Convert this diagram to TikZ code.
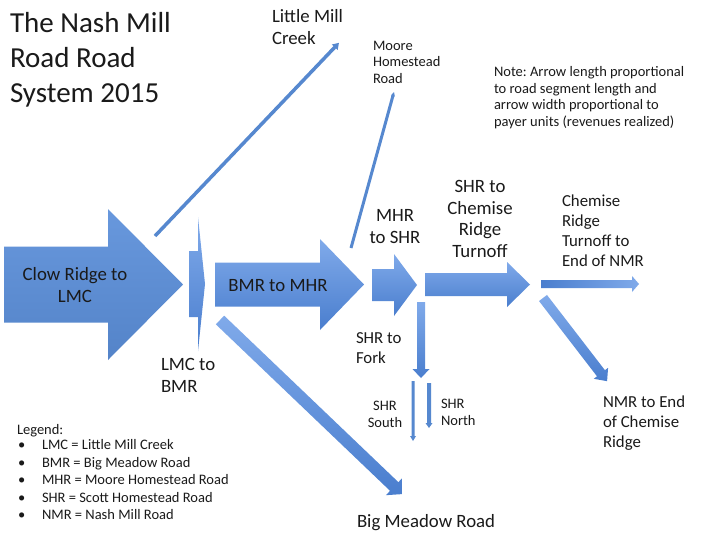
\documentclass[tikz,border=0pt]{standalone}
\usepackage{fontspec}
\setmainfont{Carlito}
\frenchspacing
\definecolor{arrlight}{HTML}{80AAEA}
\definecolor{arrdark}{HTML}{4A7ECE}
\definecolor{arrmid}{HTML}{5B8FDA}
\definecolor{txt}{HTML}{1A1A1A}
\newcommand\nmTitle{\fontsize{29}{35}\selectfont}
\newcommand\nmMid{\fontsize{18.8}{21.5}\selectfont}
\newcommand\nmMidS{\fontsize{16.8}{20}\selectfont}
\newcommand\nmSmall{\fontsize{14.5}{16.5}\selectfont}
% x y angle length shaft headwidth headlength style
\newcommand\blockarrow[8]{%
  \begin{scope}[shift={(#1,#2)},rotate=-#3]
    \path[#8] (0,-#5/2) -- (#4-#7,-#5/2) -- (#4-#7,-#6/2) -- (#4,0)
      -- (#4-#7,#6/2) -- (#4-#7,#5/2) -- (0,#5/2) -- cycle;
  \end{scope}}
\begin{document}
\begin{tikzpicture}[x=1pt,y=-1pt,
  arr/.style={top color=arrlight, bottom color=arrdark, draw=none},
  arrflat/.style={top color=arrmid!92!white, bottom color=arrmid!92!black, draw=none},
  arrthin/.style={fill=arrmid!95!black, draw=none},
  arrlr/.style={left color=arrdark, right color=arrlight, draw=none},
  lbl/.style={inner sep=0pt, outer sep=0pt, text=txt, font=\nmMid},
  lbls/.style={inner sep=0pt, outer sep=0pt, text=txt, font=\nmMidS},
  sml/.style={inner sep=0pt, outer sep=0pt, text=txt, font=\nmSmall}]
\useasboundingbox[fill=white] (0,0) rectangle (703,536);

% block arrows
\blockarrow{4}{284.5}{0}{179}{76}{151}{75}{arrflat}
\blockarrow{189}{284}{0}{16}{66}{134}{7}{arr}
\blockarrow{215}{284.5}{0}{149}{44}{91}{44}{arr}
\blockarrow{372}{285}{0}{45}{32}{62}{23}{arr}
\blockarrow{425}{284.5}{0}{105}{23}{45}{23}{arr}
\blockarrow{541}{284}{0}{98}{8}{16}{7}{arrlr}
\blockarrow{543}{298}{52.4}{105}{10}{18}{10}{arr}
\blockarrow{421}{302}{90}{76}{8}{17}{9}{arr}
\blockarrow{413}{381}{90}{60}{3}{6}{5}{arrthin}
\blockarrow{429}{383}{90}{45}{4}{7}{5}{arrthin}
\blockarrow{220}{320}{43.7}{252}{12}{24}{11}{arr}
\blockarrow{155}{236}{-46.4}{266.7}{3.5}{8}{6}{arrthin}
\blockarrow{351}{248}{-74.6}{161.8}{3}{4}{4}{arrthin}

% labels (base anchor = baseline of the last line)
\node[lbl, font=\nmTitle, align=left, anchor=base west] (title) at (10,102)
  {The Nash Mill\\Road Road\\System 2015};
\node[lbl, align=left, anchor=base west] (lmc) at (272,44) {Little Mill\\Creek};
\node[sml, align=left, anchor=base west] (moore) at (373,83) {Moore\\Homestead\\Road};
\node[sml, align=left, anchor=base west] (note) at (494,126)
  {Note: Arrow length proportional\\to road segment length and\\arrow width proportional to\\payer units (revenues realized)};
\node[lbl, align=center, anchor=base] (clow) at (75,302) {Clow Ridge to\\LMC};
\node[lbl, align=left, anchor=base west] (lmcbmr) at (161,392) {LMC to\\BMR};
\node[lbl, anchor=base] (bmrmhr) at (278,291) {BMR to MHR};
\node[lbl, align=center, anchor=base] (mhrshr) at (395,243) {MHR\\to SHR};
\node[lbl, align=center, anchor=base] (shrchem) at (480,257) {SHR to\\Chemise\\Ridge\\Turnoff};
\node[lbls, align=left, anchor=base west] (chemnmr) at (562,266) {Chemise\\Ridge\\Turnoff to\\End of NMR};
\node[lbls, align=left, anchor=base west] (shrfork) at (356,363) {SHR to\\Fork};
\node[sml, align=center, anchor=base] (south) at (385,427) {SHR\\South};
\node[sml, align=left, anchor=base west] (north) at (441,425) {SHR\\North};
\node[lbls, align=left, anchor=base west] (nmrend) at (603,447) {NMR to End\\of Chemise\\Ridge};
\node[lbl, anchor=base west] (bigmeadow) at (357,527) {Big Meadow Road};
\node[sml, anchor=base west] (legend) at (17,434) {Legend:};
\foreach \t [count=\i] in {LMC = Little Mill Creek, BMR = Big Meadow Road,
  MHR = Moore Homestead Road, SHR = Scott Homestead Road, NMR = Nash Mill Road}{
  \node[sml, anchor=base west] (bul\i) at (18,432+17.5*\i) {\textbullet};
  \node[sml, anchor=base west] (leg\i) at (42,432+17.5*\i) {\t};
}
\end{tikzpicture}
\end{document}
